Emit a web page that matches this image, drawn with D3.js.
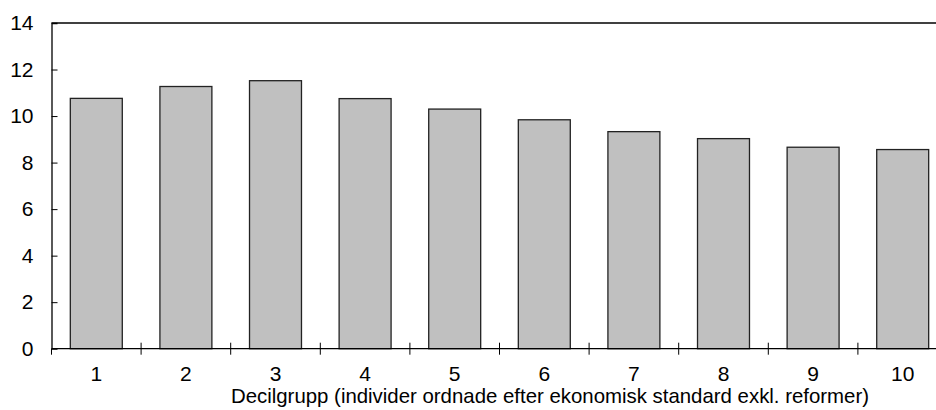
<!DOCTYPE html>
<html><head><meta charset="utf-8">
<script src="https://cdn.jsdelivr.net/npm/d3@7"></script>
<style>body{margin:0;background:#fff}svg{display:block}text{font-family:"Liberation Sans",Arial,sans-serif}</style>
</head><body>
<svg id="c" width="936" height="410"></svg>
<script>
const categories = ["1","2","3","4","5","6","7","8","9","10"];
const values = [10.76, 11.27, 11.52, 10.75, 10.30, 9.84, 9.33, 9.03, 8.66, 8.56];
const yTicks = [0,2,4,6,8,10,12,14];
const xTitle = "Decilgrupp (individer ordnade efter ekonomisk standard exkl. reformer)";

(function(){
const svg = d3.select("#c");
const mL = 51.5, mR = 947.5, mT = 23, mB = 348.7;
const x = d3.scaleBand().domain(categories).range([mL, mR]).paddingInner(0.42).paddingOuter(0.21);
const xb = d3.scaleBand().domain(categories).range([mL, mR]);
const y = d3.scaleLinear().domain([0,14]).range([mB, mT]);

// bars
svg.append("g").selectAll("rect").data(values).join("rect")
  .attr("x", (d,i)=>x(categories[i]))
  .attr("width", x.bandwidth())
  .attr("y", d=>y(d))
  .attr("height", d=>y(0)-y(d))
  .attr("fill","#c0c0c0").attr("stroke","#222").attr("stroke-width",1.3);

// top border
svg.append("line").attr("x1",mL).attr("x2",936).attr("y1",mT).attr("y2",mT)
  .attr("stroke","#000").attr("stroke-width",1.3);

// y axis
const ya = svg.append("g").attr("transform",`translate(${mL},0)`)
  .call(d3.axisLeft(y).tickValues(yTicks).tickSize(-6).tickPadding(18).tickFormat(d3.format("d")));
ya.select(".domain").attr("stroke","#000").attr("stroke-width",1.3);
ya.selectAll(".tick line").attr("stroke","#000");
ya.selectAll(".tick").filter(d=>d===0||d===14).select("line").remove();
ya.selectAll("text").attr("font-size",21).attr("fill","#000").attr("font-family","Liberation Sans, Arial, sans-serif");

// x axis
svg.append("line").attr("x1",mL).attr("x2",936).attr("y1",mB).attr("y2",mB)
  .attr("stroke","#000").attr("stroke-width",1.3);
const bounds = categories.slice(1).map(c=>xb(c));
svg.append("g").selectAll("line").data(bounds).join("line")
  .attr("x1",d=>d).attr("x2",d=>d).attr("y1",mB-6).attr("y2",mB+6)
  .attr("stroke","#000").attr("stroke-width",1);
svg.append("line").attr("x1",mL).attr("x2",mL).attr("y1",mB).attr("y2",mB+6).attr("stroke","#000");
svg.append("g").selectAll("text").data(categories).join("text")
  .attr("x",d=>xb(d)+xb.bandwidth()/2).attr("y",381)
  .attr("text-anchor","middle").attr("font-size",21).text(d=>d);

svg.append("text").attr("x",550).attr("y",403).attr("text-anchor","middle")
  .attr("font-size",20.4).text(xTitle);
})();
</script>
</body></html>
